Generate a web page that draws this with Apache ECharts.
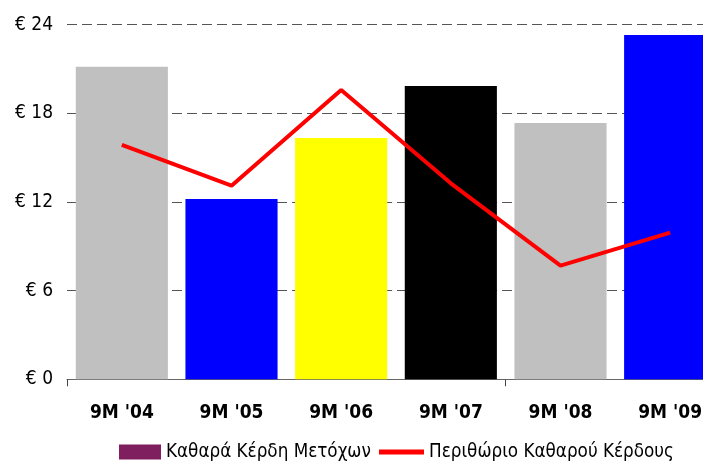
<!DOCTYPE html>
<html>
<head>
<meta charset="utf-8">
<script src="https://cdn.jsdelivr.net/npm/echarts@6/dist/echarts.min.js"></script>
<style>
  html, body { margin: 0; padding: 0; background: #fff; }
  #chart { width: 703px; height: 464px; }
</style>
</head>
<body>
<div id="chart"></div>
<script>
const categories = ['9M \'04', '9M \'05', '9M \'06', '9M \'07', '9M \'08', '9M \'09']
const profitValues = [21.15, 12.2, 16.33, 19.85, 17.34, 23.3]
const barColors = ['#c0c0c0', '#0000ff', '#ffff00', '#000000', '#c0c0c0', '#0000ff']
const marginValues = [15.87, 13.1, 19.57, 13.26, 7.69, 9.92]
const yTicks = [0, 6, 12, 18, 24]

const font = '"DejaVu Sans Condensed", "DejaVu Sans", sans-serif'

const chart = echarts.init(document.getElementById('chart'))

const option = {
  animation: false,
  backgroundColor: '#ffffff',
  legend: [
    {
      left: 114,
      top: 437.5,
      itemWidth: 42,
      itemHeight: 15,
      textStyle: { fontFamily: font, fontSize: 18.7, color: '#000' },
      data: [{ name: 'Καθαρά Κέρδη Μετόχων', icon: 'rect' }],
    },
    {
      left: 374,
      top: 437.5,
      itemWidth: 45,
      itemHeight: 5,
      textStyle: { fontFamily: font, fontSize: 18.7, color: '#000' },
      data: [{ name: 'Περιθώριο Καθαρού Κέρδους', icon: 'rect' }],
    },
  ],
  grid: {
    left: 67,
    top: 24.6,
    width: 658,
    height: 354.7,
    containLabel: false,
    outerBoundsMode: 'none',
  },
  xAxis: {
    type: 'category',
    data: categories,
    axisLine: { show: true, lineStyle: { color: '#666', width: 1 } },
    axisTick: { show: true, interval: 3, length: 7, lineStyle: { color: '#444' } },
    axisLabel: {
      margin: 24,
      fontFamily: font,
      fontSize: 19,
      fontWeight: 'bold',
      color: '#000',
    },
  },
  yAxis: {
    type: 'value',
    min: yTicks[0],
    max: yTicks[yTicks.length - 1],
    interval: 6,
    axisLine: { show: false },
    axisTick: { show: false },
    axisLabel: {
      margin: 14,
      fontFamily: font,
      fontSize: 19,
      color: '#000',
      formatter: v => '€ ' + v,
    },
    splitLine: {
      show: true,
      lineStyle: { color: '#555', width: 1, type: [10, 5] },
    },
  },
  series: [
    {
      name: 'Καθαρά Κέρδη Μετόχων',
      type: 'bar',
      barCategoryGap: '16%',
      itemStyle: { color: '#801f5f' },
      data: profitValues.map((v, i) => ({ value: v, itemStyle: { color: barColors[i] } })),
      z: 2,
    },
    {
      name: 'Περιθώριο Καθαρού Κέρδους',
      type: 'line',
      symbol: 'none',
      lineStyle: { color: '#ff0000', width: 4 },
      itemStyle: { color: '#ff0000' },
      data: marginValues,
      z: 3,
    },
  ],
}

chart.setOption(option)
</script>
</body>
</html>
